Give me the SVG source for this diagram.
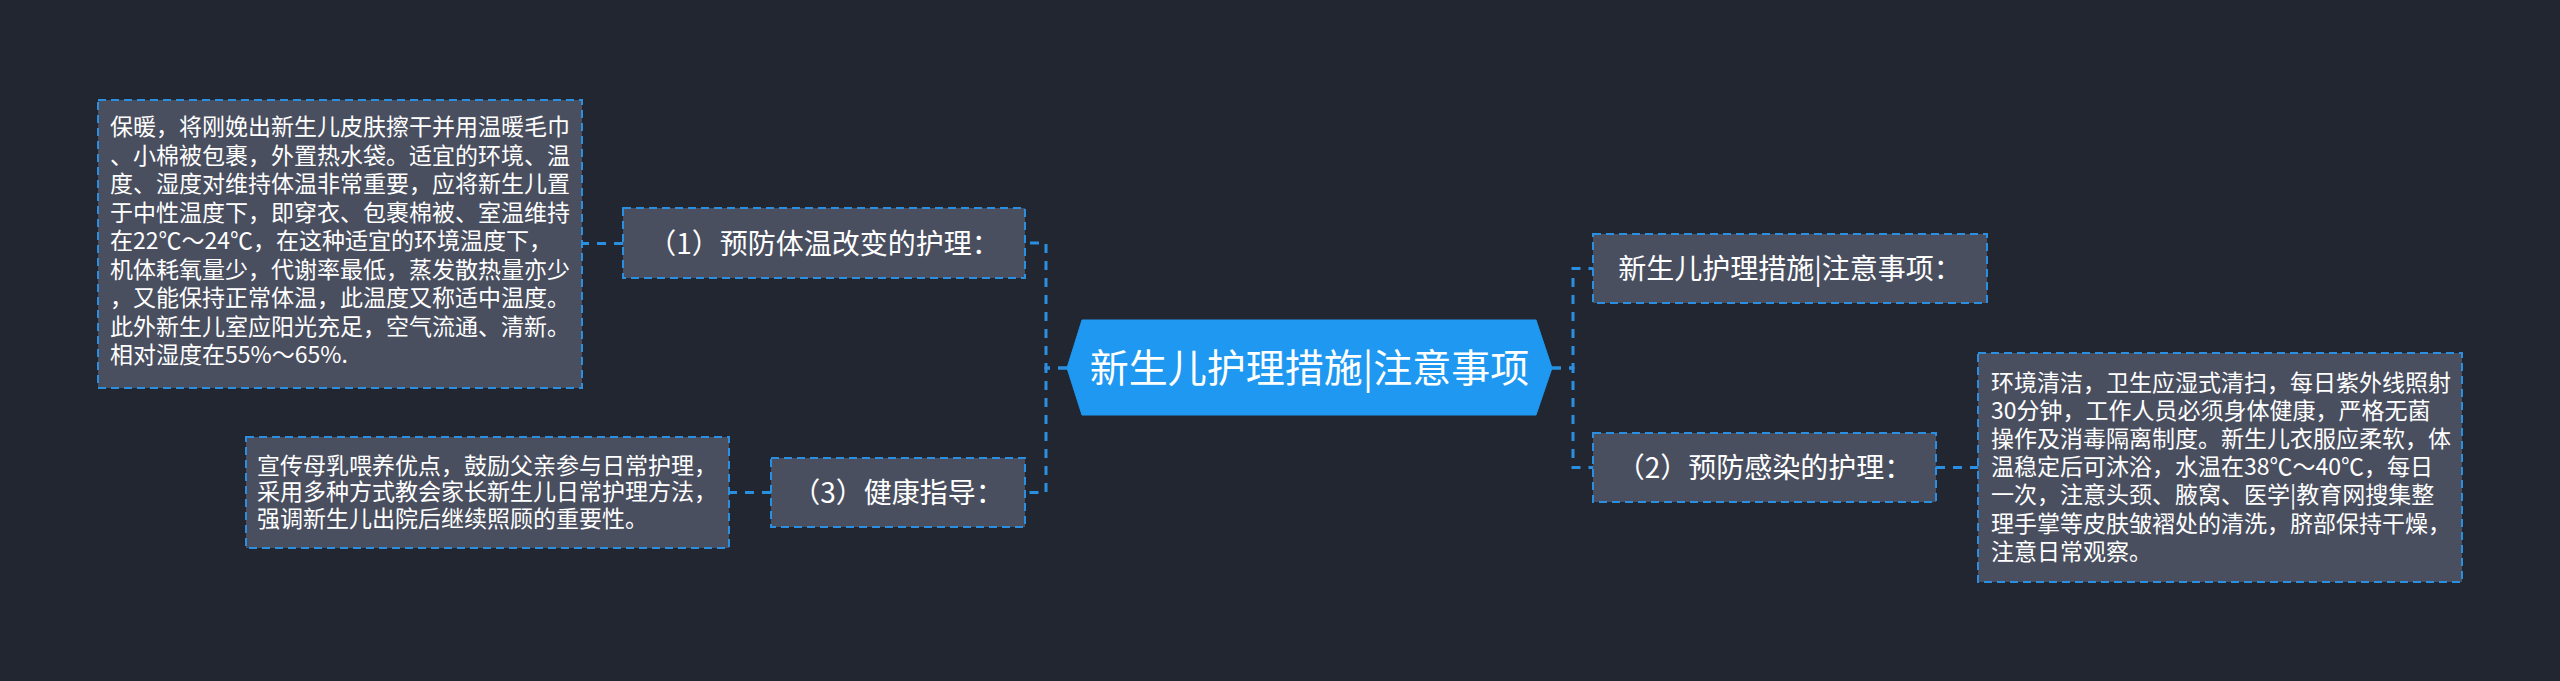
<svg xmlns="http://www.w3.org/2000/svg" width="2560" height="681" viewBox="0 0 2560 681">
<style>
.bg{fill:#222631}
.box{fill:#4a4f60;stroke:#2a8fe0;stroke-width:2;stroke-dasharray:8 5}
.hex{fill:#1e98f0;stroke:#1e98f0;stroke-width:1}
.conn{fill:none;stroke:#2a8fe0;stroke-width:3;stroke-dasharray:9 8}
.t{font-family:"Noto Sans CJK SC","Noto Sans",sans-serif;fill:#ffffff}
.d{font-size:23px}
.l{font-size:28px;text-anchor:middle}
.title{font-size:39px;text-anchor:middle}
</style>
<rect class="bg" x="0" y="0" width="2560" height="681"/>
<g id="connectors">
<path class="conn" d="M1067 368 H1046 V243 H1025"/>
<path class="conn" d="M1067 368 H1046 V492.5 H1025"/>
<path class="conn" d="M623 243.5 H582"/>
<path class="conn" d="M771 492.5 H729"/>
<path class="conn" d="M1552 368 H1573 V268.5 H1593"/>
<path class="conn" d="M1552 368 H1573 V467.5 H1593"/>
<path class="conn" d="M1936 467.5 H1978"/>
</g>
<g id="center">
<polygon class="hex" points="1067,368 1082,320 1536,320 1552,368 1536,415 1082,415"/>
<text class="t title" x="1309.5" y="382">新生儿护理措施|注意事项</text>
</g>
<g id="n1">
<rect class="box" x="623" y="208" width="402" height="70"/>
<text class="t l" x="824" y="253.5">（1）预防体温改变的护理：</text>
</g>
<g id="n1detail">
<rect class="box" x="98" y="100" width="484" height="288"/>
<text class="t d" x="110" y="135">保暖，将刚娩出新生儿皮肤擦干并用温暖毛巾</text>
<text class="t d" x="110" y="163.5">、小棉被包裹，外置热水袋。适宜的环境、温</text>
<text class="t d" x="110" y="192">度、湿度对维持体温非常重要，应将新生儿置</text>
<text class="t d" x="110" y="220.5">于中性温度下，即穿衣、包裹棉被、室温维持</text>
<text class="t d" x="110" y="249">在22℃～24℃，在这种适宜的环境温度下，</text>
<text class="t d" x="110" y="277.5">机体耗氧量少，代谢率最低，蒸发散热量亦少</text>
<text class="t d" x="110" y="306">，又能保持正常体温，此温度又称适中温度。</text>
<text class="t d" x="110" y="334.5">此外新生儿室应阳光充足，空气流通、清新。</text>
<text class="t d" x="110" y="363">相对湿度在55%～65%.</text>
</g>
<g id="n3">
<rect class="box" x="771" y="458" width="254" height="69"/>
<text class="t l" x="898" y="503">（3）健康指导：</text>
</g>
<g id="n3detail">
<rect class="box" x="246" y="437" width="483" height="111"/>
<text class="t d" x="257" y="473.5">宣传母乳喂养优点，鼓励父亲参与日常护理，</text>
<text class="t d" x="257" y="500.2">采用多种方式教会家长新生儿日常护理方法，</text>
<text class="t d" x="257" y="527">强调新生儿出院后继续照顾的重要性。</text>
</g>
<g id="n2a">
<rect class="box" x="1593" y="234" width="394" height="69"/>
<text class="t l" x="1790" y="279">新生儿护理措施|注意事项：</text>
</g>
<g id="n2b">
<rect class="box" x="1593" y="433" width="343" height="69"/>
<text class="t l" x="1764.5" y="478">（2）预防感染的护理：</text>
</g>
<g id="n2bdetail">
<rect class="box" x="1978" y="353" width="484" height="229"/>
<text class="t d" x="1991" y="390.5">环境清洁，卫生应湿式清扫，每日紫外线照射</text>
<text class="t d" x="1991" y="418.7">30分钟，工作人员必须身体健康，严格无菌</text>
<text class="t d" x="1991" y="446.9">操作及消毒隔离制度。新生儿衣服应柔软，体</text>
<text class="t d" x="1991" y="475.1">温稳定后可沐浴，水温在38℃～40℃，每日</text>
<text class="t d" x="1991" y="503.3">一次，注意头颈、腋窝、医学|教育网搜集整</text>
<text class="t d" x="1991" y="531.5">理手掌等皮肤皱褶处的清洗，脐部保持干燥，</text>
<text class="t d" x="1991" y="559.7">注意日常观察。</text>
</g>
</svg>
